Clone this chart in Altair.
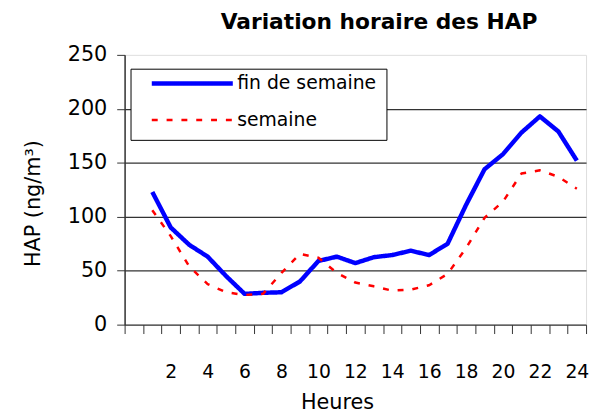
import altair as alt
import pandas as pd

# ---- data ----
hours = list(range(1, 25))
fin_de_semaine = [123, 90, 74, 63, 45, 28.5, 29.5, 30, 40, 59, 63, 57,
                  62.5, 64.5, 68.5, 64.5, 75, 111, 144, 158, 178, 193, 179, 152]
semaine = [106, 82, 54, 37.5, 30, 27.5, 28.5, 48, 65.5, 62, 48, 39,
           35.5, 31.5, 32.5, 36.5, 47, 71, 99, 114, 140, 143, 137, 126]
series_names = ["fin de semaine", "semaine"]
x_label_values = list(range(2, 25, 2))
x_tick_values = [h - 0.5 for h in range(0, 26)]
y_tick_values = [0, 50, 100, 150, 200, 250]
y_grid_values = [50, 100, 150, 200]

df = pd.DataFrame({
    "heure": hours * 2,
    "valeur": fin_de_semaine + semaine,
    "serie": [series_names[0]] * len(hours) + [series_names[1]] * len(hours),
})

FONT = "DejaVu Sans"
AXC = "#333333"

x_scale = alt.Scale(domain=[-0.5, 24.5], nice=False, zero=False)
y_scale = alt.Scale(domain=[0, 250], nice=False)

legend_spec = dict(
    title=None, orient="none", legendX=6, legendY=14, direction="vertical",
    symbolType="stroke", symbolSize=6724, clipHeight=10, rowPadding=18,
    padding=10, strokeColor="black", fillColor="white",
    labelFont=FONT, labelFontSize=19, labelColor="black",
    symbolOffset=9, labelOffset=2,
)

lines = alt.Chart(df).mark_line(strokeJoin="round", strokeCap="butt").encode(
    x=alt.X("heure:Q", scale=x_scale,
            axis=alt.Axis(values=x_tick_values, labels=False, ticks=True, tickSize=9,
                          tickColor=AXC, tickWidth=1, domain=True, domainColor=AXC,
                          domainWidth=1.5, grid=False, title=None, orient="bottom")),
    y=alt.Y("valeur:Q", scale=y_scale,
            axis=alt.Axis(values=y_tick_values, grid=False, ticks=True, tickSize=8,
                          tickColor=AXC, domain=True, domainColor=AXC, domainWidth=1.5,
                          labelFont=FONT, labelFontSize=21, labelColor="black",
                          labelPadding=10, orient="left",
                          title="HAP (ng/m³)", titleFont=FONT, titleFontSize=21,
                          titleFontWeight="normal", titleColor="black",
                          titleAngle=270, titleX=-86, titleY=150,
                          titleAlign="center", titleBaseline="alphabetic")),
    color=alt.Color("serie:N", scale=alt.Scale(domain=series_names, range=["#0000ff", "#ff0000"]),
                    legend=alt.Legend(**legend_spec)),
    strokeDash=alt.StrokeDash("serie:N", scale=alt.Scale(domain=series_names, range=[[1, 0], [6, 9]]),
                              legend=alt.Legend(**legend_spec)),
    strokeWidth=alt.StrokeWidth("serie:N", scale=alt.Scale(domain=series_names, range=[4.5, 2.5]),
                                legend=alt.Legend(**legend_spec)),
)

guides = alt.Chart(df).mark_point(opacity=0, size=0).encode(
    x=alt.X("heure:Q", scale=x_scale,
            axis=alt.Axis(values=x_label_values, ticks=False, domain=False, grid=False,
                          labelFont=FONT, labelFontSize=19, labelColor="black",
                          labelPadding=38, orient="bottom",
                          title="Heures", titleFont=FONT, titleFontSize=21,
                          titleFontWeight="normal", titleColor="black",
                          titleX=215, titleY=85, titleAlign="center",
                          titleBaseline="alphabetic")),
    y=alt.Y("valeur:Q", scale=y_scale,
            axis=alt.Axis(values=y_grid_values, grid=True, gridColor=AXC, gridWidth=1.2,
                          labels=False, ticks=False, domain=False, title=None,
                          orient="left")),
)

chart = alt.layer(guides, lines).resolve_axis(x="independent", y="independent").properties(
    width=467, height=273,
    autosize=alt.AutoSizeParams(type="none"),
    padding={"left": 118, "top": 45, "right": 5, "bottom": 88},
    title=alt.TitleParams("Variation horaire des HAP", font=FONT, fontSize=22,
                          fontWeight="bold", color="black", anchor="middle",
                          dx=24, dy=29, offset=22, baseline="alphabetic"),
).configure_view(stroke="#808080", strokeWidth=2).configure(background="white")

chart.save("out.html", embed_options={"renderer": "svg", "actions": False})
